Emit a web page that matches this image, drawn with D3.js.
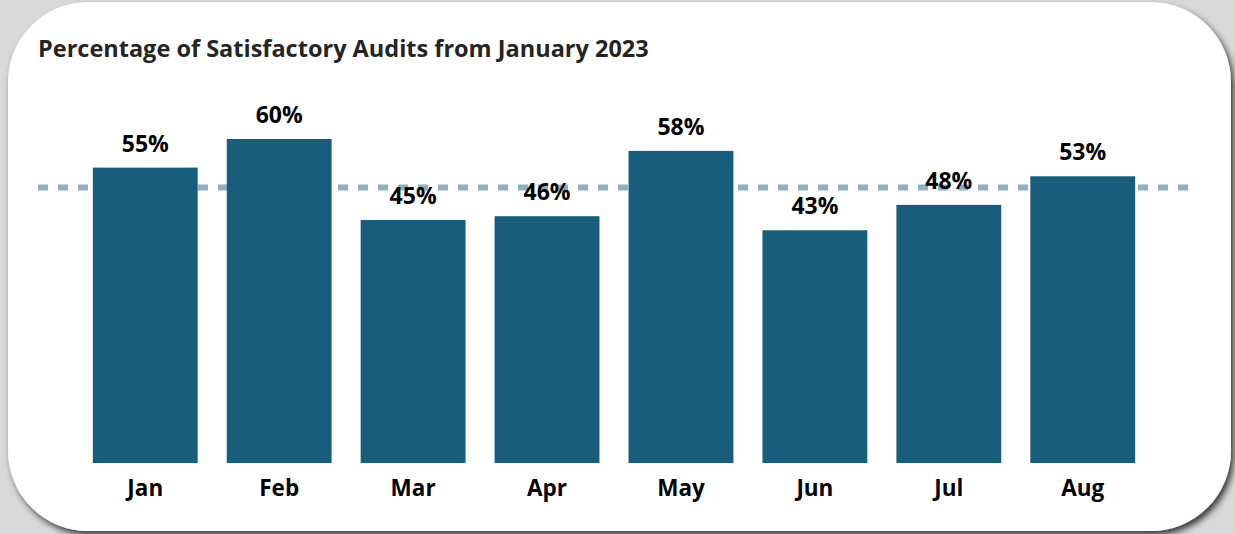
<!DOCTYPE html>
<html>
<head>
<meta charset="utf-8">
<script src="https://cdn.jsdelivr.net/npm/d3@7"></script>
<style>
  html, body { margin: 0; padding: 0; background: #d9d9d9; }
  svg { display: block; }
  text { font-family: "Open Sans", "Noto Sans", sans-serif; }
</style>
</head>
<body>
<svg id="chart" width="1235" height="534"></svg>
<script>
const months = ["Jan", "Feb", "Mar", "Apr", "May", "Jun", "Jul", "Aug"];
const satisfactory = [0.547, 0.60, 0.45, 0.457, 0.578, 0.431, 0.478, 0.531];
const titleText = "Percentage of Satisfactory Audits from January 2023";

const W = 1235, H = 534;
const svg = d3.select("#chart");

const defs = svg.append("defs");
const f = defs.append("filter").attr("id", "shadow")
  .attr("x", "-5%").attr("y", "-5%").attr("width", "110%").attr("height", "115%");
f.append("feDropShadow").attr("dx", 3).attr("dy", 4).attr("stdDeviation", 3)
  .attr("flood-color", "#222").attr("flood-opacity", 0.85);

// card
svg.append("rect")
  .attr("x", 8).attr("y", 2).attr("width", 1223).attr("height", 529)
  .attr("rx", 80).attr("ry", 80)
  .attr("fill", "#ffffff")
  .attr("filter", "url(#shadow)");

// title
svg.append("text")
  .attr("x", 38).attr("y", 57)
  .attr("font-size", 23.5).attr("font-weight", 700)
  .attr("fill", "#252423")
  .text(titleText);

const x = d3.scaleBand().domain(months).range([58, 1170]).paddingInner(0.217).paddingOuter(0.26);
const y = d3.scaleLinear().domain([0, 0.6]).range([463, 139]);

const plot = svg.append("g");

const avg = d3.mean(satisfactory.map(v => Math.round(v * 100) / 100));

// average dashed line (behind bars)
plot.append("line")
  .attr("x1", 38).attr("x2", 1190)
  .attr("y1", y(avg)).attr("y2", y(avg))
  .attr("stroke", "#8fb0c2").attr("stroke-width", 6)
  .attr("stroke-dasharray", "10,10");

const data = months.map((m, i) => ({ m, v: satisfactory[i] }));

plot.selectAll("rect.bar").data(data).enter().append("rect")
  .attr("class", "bar")
  .attr("x", d => x(d.m))
  .attr("y", d => y(d.v))
  .attr("width", x.bandwidth())
  .attr("height", d => y(0) - y(d.v))
  .attr("fill", "#185d7b");

const fmt = d3.format(".0%");
plot.selectAll("text.val").data(data).enter().append("text")
  .attr("class", "val")
  .attr("x", d => x(d.m) + x.bandwidth() / 2)
  .attr("y", d => y(d.v) - 16)
  .attr("text-anchor", "middle")
  .attr("font-size", 23).attr("font-weight", 700)
  .attr("fill", "#000")
  .text(d => fmt(d.v));

// x axis labels
const xAxis = d3.axisBottom(x).tickSize(0).tickPadding(0);
const ax = svg.append("g").attr("transform", "translate(0,463)").call(xAxis);
ax.select(".domain").remove();
ax.selectAll("text")
  .attr("dy", 0).attr("y", 33)
  .attr("font-size", 22.5).attr("font-weight", 700)
  .attr("fill", "#000")
  .style("font-family", "\"Open Sans\", \"Noto Sans\", sans-serif");
</script>
</body>
</html>
